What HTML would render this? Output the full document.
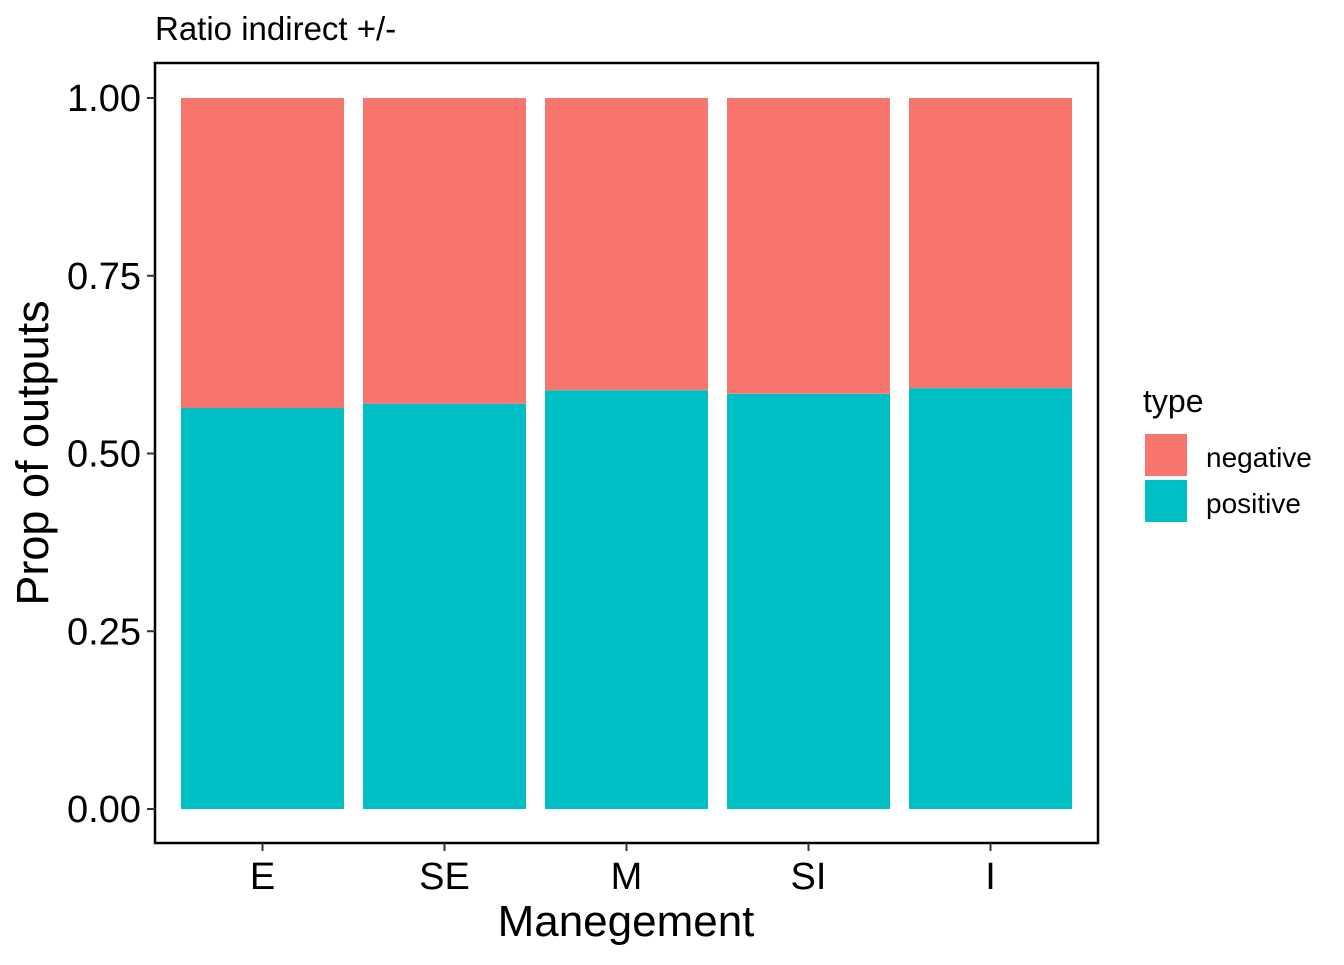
<!DOCTYPE html>
<html><head><meta charset="utf-8"><style>
body{margin:0;background:#fff;}
svg text{font-family:"Liberation Sans",Arial,sans-serif;}
</style></head><body>
<svg id="chart" width="1344" height="960" xmlns="http://www.w3.org/2000/svg">
<rect width="1344" height="960" fill="#fff"/>
<text x="155" y="40" font-size="33" fill="#000">Ratio indirect +/-</text>
<g id="bars"></g>
<rect x="155" y="63" width="943" height="780" fill="none" stroke="#000" stroke-width="2.5"/>
<g id="yaxis"></g><g id="xaxis"></g>
<text transform="translate(48,453) rotate(-90)" text-anchor="middle" font-size="45" fill="#000">Prop of outputs</text>
<text x="626" y="936" text-anchor="middle" font-size="44" fill="#000">Manegement</text>
<g>
<text x="1143" y="412" font-size="32" fill="#000">type</text>
<rect x="1145" y="434" width="42" height="42" fill="#F8766D"/>
<text x="1206" y="467" font-size="28" fill="#000">negative</text>
<rect x="1145" y="480" width="42" height="42" fill="#00BFC4"/>
<text x="1206" y="513" font-size="28" fill="#000">positive</text>
</g>
</svg>
<script>
const categories=["E","SE","M","SI","I"];
const positiveVals=[0.564,0.570,0.589,0.584,0.592];
const negativeVals=[0.436,0.430,0.411,0.416,0.408];
const yTicks=[0,0.25,0.5,0.75,1];
const yTickLabels=["0.00","0.25","0.50","0.75","1.00"];
const NS="http://www.w3.org/2000/svg";
const y=v=>809-v*711;
const band=182, x0=262.5, bw=163;
const xc=i=>x0+i*band;
function mk(t,a,p){const e=document.createElementNS(NS,t);for(const k in a)e.setAttribute(k,a[k]);p.appendChild(e);return e;}
const bars=document.getElementById('bars');
categories.forEach((c,i)=>{
  const p=positiveVals[i], n=negativeVals[i];
  const r1=mk('rect',{x:xc(i)-bw/2,y:y(p),width:bw,height:y(0)-y(p),fill:'#00BFC4'},bars);
  
  
  const r2=mk('rect',{x:xc(i)-bw/2,y:y(p+n),width:bw,height:y(p)-y(p+n),fill:'#F8766D'},bars);
  
  
});
const ya=document.getElementById('yaxis');
yTicks.forEach((t,i)=>{
  const l=mk('line',{x1:147,x2:155,y1:y(t),y2:y(t),stroke:'#333','stroke-width':2},ya);
  
  
  const tx=mk('text',{x:141,y:y(t)+13,'text-anchor':'end','font-size':38,fill:'#000'},ya);
  tx.textContent=yTickLabels[i];
  
  
});
const xa=document.getElementById('xaxis');
categories.forEach((c,i)=>{
  const l=mk('line',{x1:xc(i),x2:xc(i),y1:843,y2:851,stroke:'#333','stroke-width':2},xa);
  
  
  const tx=mk('text',{x:xc(i),y:889,'text-anchor':'middle','font-size':38,fill:'#000'},xa);
  tx.textContent=c;
  
  
});
</script>
</body></html>
